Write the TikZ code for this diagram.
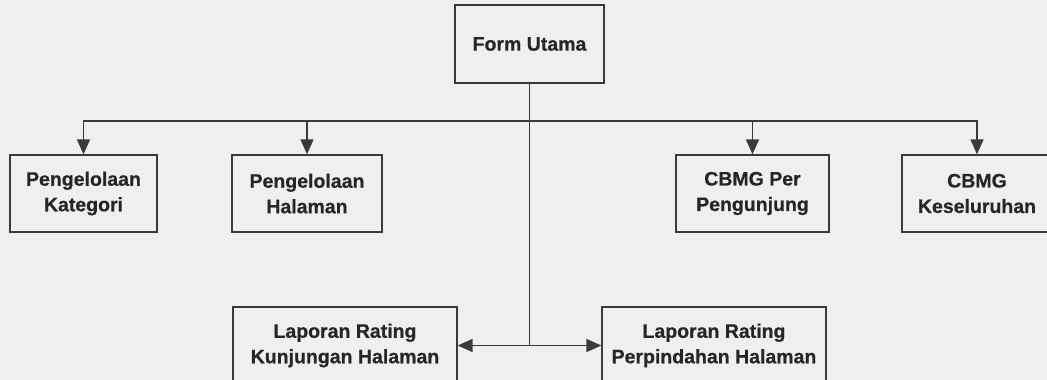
\documentclass[tikz,border=0pt]{standalone}
\usepackage{fontspec}
\setmainfont{Liberation Sans}[BoldFont={Liberation Sans Bold}]
\newfontfamily\boxfont{Liberation Sans Bold}[FakeBold=0.6]
\usetikzlibrary{arrows.meta}
\definecolor{paper}{RGB}{239,239,239}
\definecolor{ink}{RGB}{58,58,58}
\definecolor{txt}{RGB}{38,38,38}
\begin{document}
\begin{tikzpicture}[x=1pt,y=-1pt,
  modbox/.style={draw=ink, line width=1.3pt, inner sep=0pt, align=center,
    text=txt, font=\boxfont\fontsize{19.5}{25.5}\selectfont},
  link/.style={draw=ink, line width=1.4pt},
  tolink/.style={link, -{Triangle[length=15pt,width=13pt]}}]
  % page with fixed margins
  \useasboundingbox (0,0) rectangle (1047,380);
  \fill[paper] (0,0) rectangle (1047,380);

  % top-level form
  \node[modbox, minimum width=149pt, minimum height=78pt] (fu) at (529.5,44) {Form Utama};

  % first row of sub-forms
  \node[modbox, minimum width=147pt, minimum height=77pt] (kat) at (83.5,193.5) {Pengelolaan\\Kategori};
  \node[modbox, minimum width=150pt, minimum height=77pt] (hal) at (307,193.5) {Pengelolaan\\Halaman};
  \node[modbox, minimum width=153pt, minimum height=77pt] (cpp) at (752.5,193.5) {CBMG Per\\Pengunjung};
  \node[modbox, minimum width=150pt, minimum height=77pt] (cks) at (977,193.5) {CBMG\\Keseluruhan};

  % report forms
  \node[modbox, minimum width=224pt, minimum height=77pt] (lk) at (345,345.5) {Laporan Rating\\Kunjungan Halaman};
  \node[modbox, minimum width=224pt, minimum height=77pt] (lp) at (714,345.5) {Laporan Rating\\Perpindahan Halaman};

  % connectors
  \coordinate (bus) at (529.5,121);
  \draw[link] (fu.south) -- (bus);
  \draw[tolink] (bus) -| (kat.north);
  \draw[tolink] (bus) -| (hal.north);
  \draw[tolink] (bus) -| (cpp.north);
  \draw[tolink] (bus) -| (cks.north);
  \draw[tolink] (bus) |- (lk.east);
  \draw[tolink] (bus) |- (lp.west);
\end{tikzpicture}
\end{document}
